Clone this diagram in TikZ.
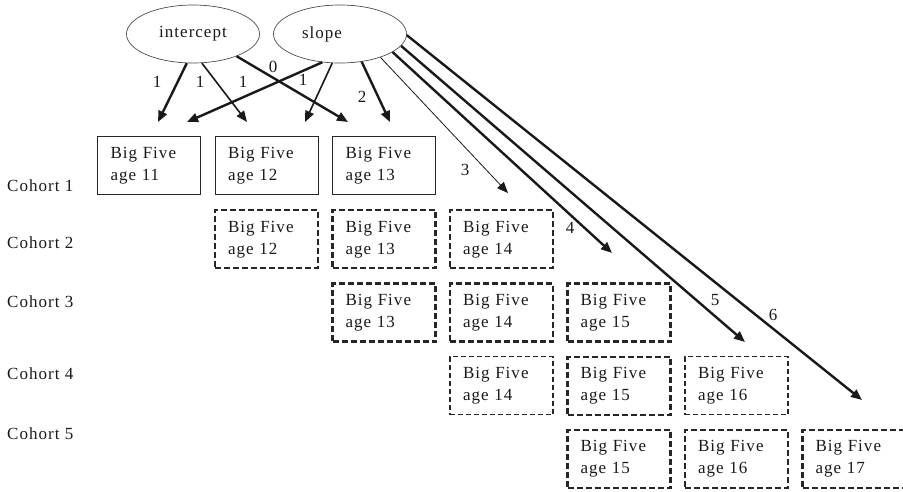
\documentclass[tikz,border=0pt]{standalone}
\usepackage{fontspec}
\setmainfont{Liberation Serif}[LetterSpace=6]
\usetikzlibrary{arrows.meta,shapes.geometric}
\begin{document}
\begin{tikzpicture}[x=1pt,y=-1pt,
  every node/.style={font=\fontsize{17pt}{22pt}\selectfont, text=black!90},
  lat/.style={ellipse, draw=black!70, line width=0.7pt, minimum width=133pt, minimum height=58pt, inner sep=0pt},
  obs/.style={draw=black!85, text width=77pt, inner xsep=13pt, inner ysep=0pt, minimum height=58pt, align=left},
  solidbox/.style={obs, line width=1pt},
  thickdash/.style={obs, line width=2.4pt, dash pattern=on 6pt off 3pt},
  thindash/.style={obs, line width=1.1pt, dash pattern=on 5pt off 3pt},
  thk/.style={draw=black!90, line width=2.4pt, -{Triangle[length=11pt,width=9pt]}},
  med/.style={draw=black!90, line width=1.6pt, -{Triangle[length=11pt,width=9pt]}},
  thn/.style={draw=black!90, line width=0.8pt, -{Triangle[length=11pt,width=9pt]}},
  lbl/.style={inner sep=0pt},
  coh/.style={inner sep=0pt, anchor=base west}]
\useasboundingbox (0,0) rectangle (903,492);

% latent variables
\node[lat] (int) at (193,34) {intercept};
\node[lat, label={[xshift=-18pt, inner sep=0pt, font=\fontsize{17pt}{22pt}\selectfont]center:slope}] (slp) at (340,34) {};

% cohort labels
\node[coh] (c1) at (7,192) {Cohort 1};
\node[coh] (c2) at (7,248) {Cohort 2};
\node[coh] (c3) at (7,307) {Cohort 3};
\node[coh] (c4) at (7,379) {Cohort 4};
\node[coh] (c5) at (7,439) {Cohort 5};

% observed boxes
\node[solidbox] (b11) at (149,166) {Big Five\\age 11};
\node[solidbox] (b12) at (266.5,166) {Big Five\\age 12};
\node[solidbox] (b13) at (384,166) {Big Five\\age 13};

\node[thickdash] (b22) at (266.5,239.25) {Big Five\\age 12};
\node[thickdash] (b23) at (384,239.25) {Big Five\\age 13};
\node[thickdash] (b24) at (501.5,239.25) {Big Five\\age 14};

\node[thickdash] (b33) at (384,312.5) {Big Five\\age 13};
\node[thickdash] (b34) at (501.5,312.5) {Big Five\\age 14};
\node[thickdash] (b35) at (619,312.5) {Big Five\\age 15};

\node[thindash] (b44) at (501.5,385.75) {Big Five\\age 14};
\node[thickdash] (b45) at (619,385.75) {Big Five\\age 15};
\node[thindash] (b46) at (736.5,385.75) {Big Five\\age 16};

\node[thickdash] (b55) at (619,459) {Big Five\\age 15};
\node[thickdash] (b56) at (736.5,459) {Big Five\\age 16};
\node[thickdash] (b57) at (854,459) {Big Five\\age 17};

% arrow tips
\coordinate (ti1) at (158,122);
\coordinate (ti2) at (247,122);
\coordinate (ti3) at (348,122);
\coordinate (ts1) at (187,122);
\coordinate (ts2) at (305,122);
\coordinate (ts3) at (390,122);
\coordinate (ts4) at (508,193);
\coordinate (ts5) at (612,253);
\coordinate (ts6) at (745,342);
\coordinate (ts7) at (862,400);

% intercept loadings
\draw[thk] (int.-102) -- (ti1);
\draw[med] (int.-73) -- (ti2);
\draw[thk] (int.-27) -- (ti3);
% slope loadings
\draw[thk] (slp.-122) -- (ts1);
\draw[med] (slp.-105) -- (ts2);
\draw[thk] (slp.-52) -- (ts3);
\draw[thn] (slp.-30) -- (ts4);
\draw[thk] (slp.-19) -- (ts5);
\draw[thk] (slp.-11) -- (ts6);
\draw[thk] (slp.-1) -- (ts7);

% loading labels
\node[lbl] (l1) at (157,82) {1};
\node[lbl] (l2) at (200,82) {1};
\node[lbl] (l3) at (243,82) {1};
\node[lbl] (l4) at (273,67) {0};
\node[lbl] (l5) at (303,80) {1};
\node[lbl] (l6) at (362,97) {2};
\node[lbl] (l7) at (465,170) {3};
\node[lbl] (l8) at (570,228) {4};
\node[lbl] (l9) at (715,300) {5};
\node[lbl] (l10) at (773,315) {6};
\end{tikzpicture}
\end{document}
